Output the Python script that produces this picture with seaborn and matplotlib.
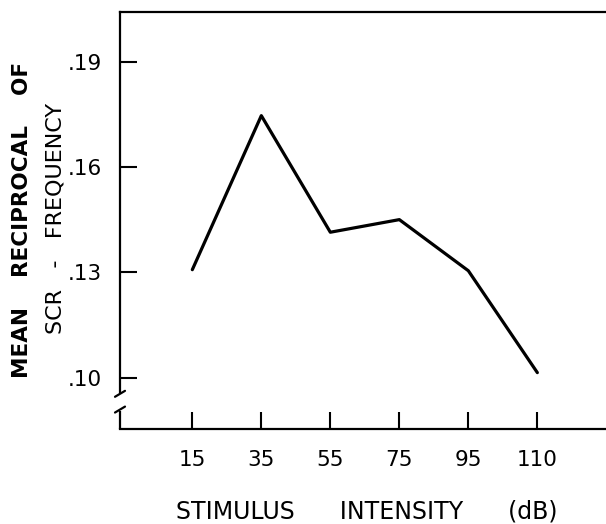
import matplotlib
matplotlib.use("Agg")
import matplotlib.pyplot as plt
import matplotlib.transforms as mtransforms
import seaborn as sns
import pandas as pd

# ---- data ----
intensity = ["15", "35", "55", "75", "95", "110"]
reciprocal_freq = [0.1308, 0.1748, 0.1415, 0.1451, 0.1305, 0.1014]
yticks = [0.10, 0.13, 0.16, 0.19]
ytick_labels = [".10", ".13", ".16", ".19"]

sns.set_style("white")
plt.rcParams["font.family"] = ["DejaVu Sans"]
plt.rcParams["text.color"] = "black"
plt.rcParams["axes.labelcolor"] = "black"

df = pd.DataFrame({"intensity": intensity, "value": reciprocal_freq})

fig = plt.figure(figsize=(6.06, 5.24), dpi=100)
ax = fig.add_axes([120 / 606, 95 / 524, 486 / 606, 417 / 524])

sns.lineplot(data=df, x="intensity", y="value", sort=False, color="black",
             linewidth=2.3, ax=ax)

ax.set_xlim(-1.048, 5.995)
ax.set_ylim(0.0853, 0.2044)
ax.set_yticks(yticks)
ax.set_yticklabels(ytick_labels)

for s in ["top", "bottom", "left"]:
    ax.spines[s].set_color("black")
    ax.spines[s].set_linewidth(1.6)
ax.spines["right"].set_visible(False)

# broken left axis
ax.spines["left"].set_bounds(0.0960, 0.2044)
trans = mtransforms.blended_transform_factory(ax.transAxes, ax.transData)
dx = 5 / 486
ax.plot([0, 0], [0.0853, 0.0905], color="black", lw=1.6, transform=trans,
        clip_on=False, solid_capstyle="butt")
ax.plot([-dx, dx], [0.0945, 0.0962], color="black", lw=1.6, transform=trans,
        clip_on=False)
ax.plot([-dx, dx], [0.0900, 0.0917], color="black", lw=1.6, transform=trans,
        clip_on=False)

ax.tick_params(axis="both", direction="in", length=12, width=1.5,
               colors="black", labelcolor="black", labelsize=15.5,
               bottom=True, left=True, top=False, right=False)
ax.tick_params(axis="y", pad=13)
ax.tick_params(axis="x", pad=15)

ax.set_xlabel("STIMULUS      INTENSITY      (dB)", fontsize=17, va="center",
              color="black")
ax.xaxis.set_label_coords(0.508, -0.197)
ax.set_ylabel("")

fig.text(22 / 606, 1 - 220 / 524, "MEAN    RECIPROCAL    OF", rotation=90,
         ha="center", va="center", fontsize=15.5, fontweight="bold",
         color="black")
fig.text(56 / 606, 1 - 218 / 524, "SCR   -   FREQUENCY", rotation=90,
         ha="center", va="center", fontsize=16, color="black")

fig.savefig("out.png", dpi=100, facecolor="white")
